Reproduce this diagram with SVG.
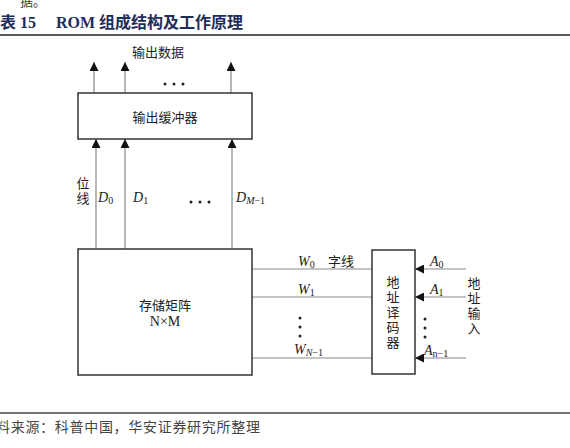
<svg xmlns="http://www.w3.org/2000/svg" width="570" height="448" viewBox="0 0 570 448">
<defs>
<style>
.t{font-family:"Liberation Serif","Noto Sans CJK SC",serif;fill:#222;font-size:13px}
.m{font-family:"Liberation Serif","DejaVu Serif",serif;font-style:italic;fill:#222;font-size:14px}
.s{font-size:10px;font-style:normal}
.box{fill:#fff;stroke:#333;stroke-width:1.5}
.ln{stroke:#888;stroke-width:1.2;fill:none}
.dot{fill:#222}
.ti{font-family:"Liberation Serif","Noto Sans CJK SC",serif;font-weight:bold;font-size:16px;fill:#1f2d5a}
</style>
<marker id="ah" viewBox="0 0 10 10" refX="10" refY="5" markerWidth="9" markerHeight="9" markerUnits="userSpaceOnUse" orient="auto">
<path d="M0,0 L10,5 L0,10 Z" fill="#111"/>
</marker>
</defs>
<rect width="570" height="448" fill="#fff"/>
<text x="20" y="6" class="t" style="fill:#444">据。</text>
<text x="0" y="28" class="ti">表 15</text>
<text x="56" y="28" class="ti">ROM 组成结构及工作原理</text>
<line x1="0" y1="35" x2="570" y2="35" stroke="#222" stroke-width="1.5"/>

<g id="connectors">
<line class="ln" x1="94" y1="93" x2="94" y2="62" marker-end="url(#ah)"/>
<line class="ln" x1="125" y1="93" x2="125" y2="62" marker-end="url(#ah)"/>
<line class="ln" x1="231" y1="93" x2="231" y2="62" marker-end="url(#ah)"/>
<line class="ln" x1="96" y1="249" x2="96" y2="139" marker-end="url(#ah)"/>
<line class="ln" x1="125" y1="249" x2="125" y2="139" marker-end="url(#ah)"/>
<line class="ln" x1="232" y1="249" x2="232" y2="139" marker-end="url(#ah)"/>
<line class="ln" x1="252" y1="269" x2="372" y2="269"/>
<line class="ln" x1="252" y1="297" x2="372" y2="297"/>
<line class="ln" x1="252" y1="358" x2="372" y2="358"/>
<line class="ln" x1="466" y1="269" x2="415" y2="269" marker-end="url(#ah)"/>
<line class="ln" x1="466" y1="297" x2="415" y2="297" marker-end="url(#ah)"/>
<line class="ln" x1="466" y1="358" x2="415" y2="358" marker-end="url(#ah)"/>
</g>

<g id="output-data">
<text x="158" y="57" class="t" text-anchor="middle">输出数据</text>
<circle class="dot" cx="165" cy="84" r="1.5"/><circle class="dot" cx="174" cy="84" r="1.5"/><circle class="dot" cx="183" cy="84" r="1.5"/>
</g>

<g id="buffer">
<rect class="box" x="78" y="93" width="174" height="46"/>
<text x="165" y="122" class="t" text-anchor="middle">输出缓冲器</text>
</g>

<g id="bitlines">
<text x="83" y="188" class="t" text-anchor="middle">位</text>
<text x="83" y="203" class="t" text-anchor="middle">线</text>
<text x="98" y="202" class="m">D<tspan class="s" dy="2">0</tspan></text>
<text x="133" y="202" class="m">D<tspan class="s" dy="2">1</tspan></text>
<circle class="dot" cx="191" cy="202" r="1.5"/><circle class="dot" cx="200" cy="202" r="1.5"/><circle class="dot" cx="209" cy="202" r="1.5"/>
<text x="236" y="202" class="m">D<tspan class="s" dy="2" style="font-style:italic">M</tspan><tspan class="s">−1</tspan></text>
</g>

<g id="matrix">
<rect class="box" x="78" y="249" width="174" height="126"/>
<text x="165" y="310" class="t" text-anchor="middle">存储矩阵</text>
<text x="165" y="326" class="t" text-anchor="middle" style="font-size:14px">N×M</text>
</g>

<g id="wordlines">
<text x="298" y="266" class="m">W<tspan class="s" dy="2">0</tspan></text>
<text x="328" y="266" class="t">字线</text>
<text x="298" y="294" class="m">W<tspan class="s" dy="2">1</tspan></text>
<circle class="dot" cx="300" cy="318" r="1.5"/><circle class="dot" cx="300" cy="327" r="1.5"/><circle class="dot" cx="300" cy="336" r="1.5"/>
<text x="294" y="354" class="m">W<tspan class="s" dy="2" style="font-style:italic">N</tspan><tspan class="s">−1</tspan></text>
</g>

<g id="decoder">
<rect class="box" x="372" y="250" width="43" height="124"/>
<text x="393" y="287" class="t" text-anchor="middle">地</text>
<text x="393" y="302" class="t" text-anchor="middle">址</text>
<text x="393" y="317" class="t" text-anchor="middle">译</text>
<text x="393" y="332" class="t" text-anchor="middle">码</text>
<text x="393" y="347" class="t" text-anchor="middle">器</text>
</g>

<g id="address">
<text x="430" y="266" class="m">A<tspan class="s" dy="2">0</tspan></text>
<text x="430" y="294" class="m">A<tspan class="s" dy="2">1</tspan></text>
<circle class="dot" cx="425" cy="319" r="1.5"/><circle class="dot" cx="425" cy="328" r="1.5"/><circle class="dot" cx="425" cy="337" r="1.5"/>
<text x="424" y="355" class="m">A<tspan class="s" dy="2">n−1</tspan></text>
<text x="474" y="288" class="t" text-anchor="middle">地</text>
<text x="474" y="303" class="t" text-anchor="middle">址</text>
<text x="474" y="318" class="t" text-anchor="middle">输</text>
<text x="474" y="333" class="t" text-anchor="middle">入</text>
</g>

<line x1="0" y1="413" x2="570" y2="413" stroke="#444" stroke-width="1.5"/>
<text x="-4" y="432" class="t" style="fill:#444;font-size:14px;letter-spacing:0.7px">料来源：科普中国，华安证券研究所整理</text>
</svg>
